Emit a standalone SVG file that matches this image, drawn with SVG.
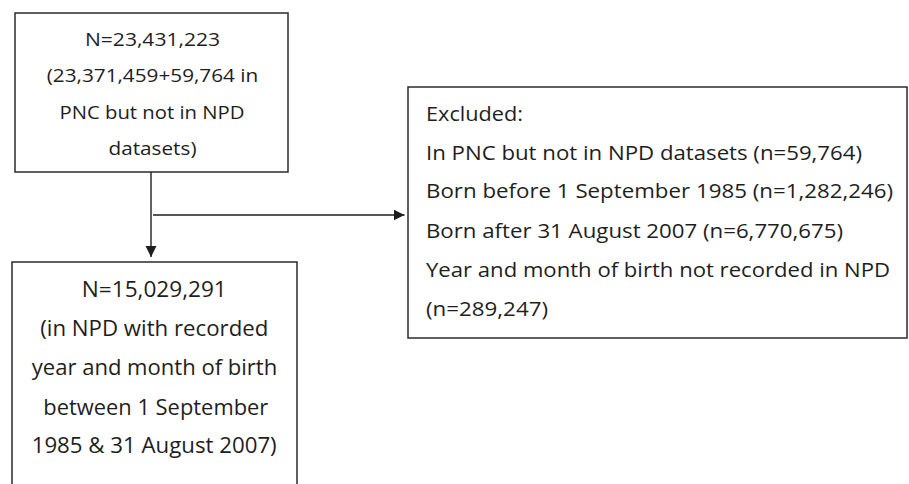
<svg xmlns="http://www.w3.org/2000/svg" width="909" height="484" viewBox="0 0 909 484">
<style>
.box{fill:#fff;stroke:#2b2b2b;stroke-width:1.5}
.t{font-family:"Open Sans","Liberation Sans",sans-serif;fill:#1e1e1e;lengthAdjust:spacingAndGlyphs}
.c{text-anchor:middle}
.s18{font-size:18px}
.s20{font-size:19.5px}
.s21{font-size:21px}
.ln{stroke:#1e1e1e;stroke-width:1.4;fill:none}
</style>
<defs>
<marker id="ah" markerWidth="12" markerHeight="12" refX="11" refY="6" orient="auto" markerUnits="userSpaceOnUse">
<path d="M0,0.5 L11,6 L0,11.5 Z" fill="#1e1e1e"/>
</marker>
</defs>
<rect width="909" height="484" fill="#fff"/>
<g id="connectors">
<line class="ln" x1="151" y1="172" x2="151" y2="257" marker-end="url(#ah)"/>
<line class="ln" x1="153" y1="215" x2="404.5" y2="215" marker-end="url(#ah)"/>
</g>
<g id="n-total">
<rect class="box" x="15" y="13" width="273" height="159"/>
<text class="t c s18" x="152.5" y="46" textLength="135" lengthAdjust="spacingAndGlyphs">N=23,431,223</text>
<text class="t c s18" x="152.5" y="82" textLength="211.5" lengthAdjust="spacingAndGlyphs">(23,371,459+59,764 in</text>
<text class="t c s18" x="152" y="118.5" textLength="185" lengthAdjust="spacingAndGlyphs">PNC but not in NPD</text>
<text class="t c s18" x="152.5" y="155" textLength="88" lengthAdjust="spacingAndGlyphs">datasets)</text>
</g>
<g id="n-included">
<path class="box" d="M12,490 V262 H297 V490"/>
<text class="t c s21" x="154.3" y="297" textLength="145" lengthAdjust="spacingAndGlyphs">N=15,029,291</text>
<text class="t c s21" x="154.3" y="336" textLength="228" lengthAdjust="spacingAndGlyphs">(in NPD with recorded</text>
<text class="t c s21" x="154.5" y="375" textLength="245.5" lengthAdjust="spacingAndGlyphs">year and month of birth</text>
<text class="t c s21" x="155.8" y="414.5" textLength="225" lengthAdjust="spacingAndGlyphs">between 1 September</text>
<text class="t c s21" x="154.2" y="453" textLength="245" lengthAdjust="spacingAndGlyphs">1985 &amp; 31 August 2007)</text>
</g>
<g id="excluded">
<rect class="box" x="408" y="87" width="499" height="251"/>
<text class="t s20" x="426" y="121" textLength="97" lengthAdjust="spacingAndGlyphs">Excluded:</text>
<text class="t s20" x="426" y="159.5" textLength="436" lengthAdjust="spacingAndGlyphs">In PNC but not in NPD datasets (n=59,764)</text>
<text class="t s20" x="426" y="198" textLength="467" lengthAdjust="spacingAndGlyphs">Born before 1 September 1985 (n=1,282,246)</text>
<text class="t s20" x="426" y="237.5" textLength="417" lengthAdjust="spacingAndGlyphs">Born after 31 August 2007 (n=6,770,675)</text>
<text class="t s20" x="426" y="277" textLength="464" lengthAdjust="spacingAndGlyphs">Year and month of birth not recorded in NPD</text>
<text class="t s20" x="426" y="316" textLength="122" lengthAdjust="spacingAndGlyphs">(n=289,247)</text>
</g>
</svg>
